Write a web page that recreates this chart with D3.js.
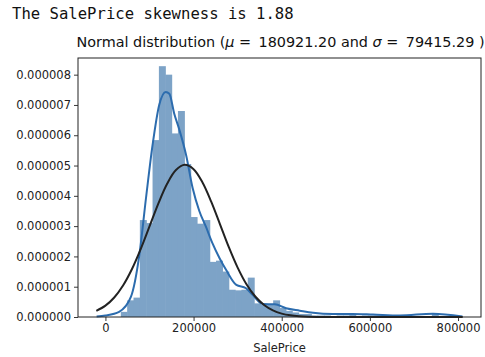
<!DOCTYPE html>
<html>
<head>
<meta charset="utf-8">
<script src="https://cdn.jsdelivr.net/npm/d3@7"></script>
<style>
  html, body { margin: 0; padding: 0; background: #fff; }
  svg { display: block; }
</style>
</head>
<body>
<svg id="chart" width="485" height="357"></svg>
<script>
// ---- data ----
const headline = "The SalePrice skewness is 1.88";
const mu = "180921.20";
const sigma = "79415.29";
const xLabel = "SalePrice";

// histogram: 50 equal bins between min and max SalePrice, density in units of 1e-6
const priceMin = 34900;
const priceMax = 755000;
const histDensity = [
  0.17, 0.55, 0.64, 3.2, 3.1, 5.84, 8.28, 8.0, 6.06, 6.8,
  5.05, 3.3, 3.08, 3.2, 1.82, 1.86, 1.5, 0.9, 0.88, 0.9,
  1.3, 0.45, 0.4, 0.4, 0.55, 0.3, 0.2, 0.15, 0.1, 0.1,
  0.05, 0.05, 0.05, 0.0, 0.05, 0.05, 0.1, 0.0, 0.05, 0.05,
  0.05, 0.05, 0, 0, 0, 0, 0, 0, 0, 0.1
];

// KDE curve (blue), x = SalePrice, y = density (1e-6)
const kdeX = [-20000, 0, 31000, 58000, 77000, 92000, 107000, 122000, 137000, 145000,
  156000, 168000, 183000, 198000, 213000, 228000, 243000, 259000, 274000, 297000,
  319000, 334000, 357000, 384000, 410000, 441000, 471000, 516000, 561000, 607000,
  668000, 743000, 810000];
const kdeY = [0.02, 0.05, 0.17, 0.67, 2.05, 3.92, 5.68, 7.0, 7.43, 7.37,
  6.72, 6.17, 5.35, 4.25, 3.5, 2.98, 2.43, 1.94, 1.55, 1.06,
  0.95, 0.73, 0.43, 0.42, 0.29, 0.21, 0.14, 0.1, 0.1, 0.08,
  0.05, 0.11, 0.02];

// fitted normal curve (black), x = SalePrice, y = density (1e-6)
const normX = [-20660, 0, 20000, 40000, 60000, 80000, 100000, 120000, 140000, 160000,
  180000, 200000, 220000, 240000, 260000, 280000, 300000, 320000, 340000, 360000,
  380000, 400000, 420000, 440000, 460000, 480000, 520000, 600000, 700000, 810560];
const normY = [0.205, 0.375, 0.645, 1.04, 1.576, 2.24, 2.989, 3.743, 4.399, 4.852,
  5.023, 4.88, 4.45, 3.809, 3.06, 2.307, 1.632, 1.083, 0.676, 0.395,
  0.217, 0.112, 0.054, 0.025, 0.01, 0.004, 0.001, 0, 0, 0];

const xTicks = [0, 200000, 400000, 600000, 800000];
const yTicks = [0, 1, 2, 3, 4, 5, 6, 7, 8];

// ---- layout ----
const L = 78, R = 481, T = 58, B = 317;
const svg = d3.select("#chart");

const x = d3.scaleLinear().domain([-62221, 852121]).range([L, R]);
const y = d3.scaleLinear().domain([0, 8.55]).range([B, T]);

const barColor = "rgb(125,163,199)";
const kdeColor = "#2c6cae";

// bars (slightly widened so neighbouring bars do not show seams)
const nb = histDensity.length;
const bw = (priceMax - priceMin) / nb;
svg.append("g").selectAll("rect")
  .data(histDensity)
  .join("rect")
  .attr("x", (d, i) => x(priceMin + i * bw))
  .attr("width", (d, i) => x(priceMin + (i + 1) * bw) - x(priceMin + i * bw) + 0.6)
  .attr("y", d => y(d))
  .attr("height", d => B - y(d))
  .attr("fill", barColor);

// curves
const kdeLine = d3.line().x(d => x(d[0])).y(d => y(d[1])).curve(d3.curveMonotoneX);
svg.append("path")
  .datum(kdeX.map((v, i) => [v, kdeY[i]]))
  .attr("d", kdeLine)
  .attr("fill", "none")
  .attr("stroke", kdeColor)
  .attr("stroke-width", 2);

const normLine = d3.line().x(d => x(d[0])).y(d => y(d[1])).curve(d3.curveCatmullRom.alpha(0.5));
svg.append("path")
  .datum(normX.map((v, i) => [v, normY[i]]))
  .attr("d", normLine)
  .attr("fill", "none")
  .attr("stroke", "#222")
  .attr("stroke-width", 2);

// axes
const fontTick = "DejaVu Sans, sans-serif";
const xAxis = svg.append("g")
  .attr("transform", `translate(0,${B})`)
  .call(d3.axisBottom(x).tickValues(xTicks).tickFormat(d3.format("d")).tickSize(4).tickPadding(3));
const yAxis = svg.append("g")
  .attr("transform", `translate(${L},0)`)
  .call(d3.axisLeft(y).tickValues(yTicks).tickFormat(d => (d * 1e-6).toFixed(6)).tickSize(4).tickPadding(3));
[xAxis, yAxis].forEach(g => {
  g.select(".domain").remove();
  g.selectAll("line").attr("stroke", "#222").attr("stroke-width", 0.9);
  g.selectAll("text").attr("font-family", fontTick).attr("font-size", "11.5px").attr("fill", "#222");
});

// frame
svg.append("rect")
  .attr("x", L).attr("y", T).attr("width", R - L).attr("height", B - T)
  .attr("fill", "none").attr("stroke", "#222").attr("stroke-width", 1);

// x label
svg.append("text")
  .attr("x", (L + R) / 2).attr("y", 352)
  .attr("text-anchor", "middle")
  .attr("font-family", fontTick).attr("font-size", "11.5px").attr("fill", "#222")
  .text(xLabel);

// title
const title = svg.append("text")
  .attr("x", (L + R) / 2 + 1).attr("y", 47)
  .attr("text-anchor", "middle")
  .attr("font-family", fontTick).attr("font-size", "14.4px").attr("fill", "#111");
title.append("tspan").text("Normal distribution (");
title.append("tspan").attr("font-style", "italic").text("\u03bc");
title.append("tspan").text(" = \u2009" + mu + " and ");
title.append("tspan").attr("font-style", "italic").text("\u03c3");
title.append("tspan").text(" = \u2009" + sigma + " )");

// headline printed above
svg.append("text")
  .attr("x", 12).attr("y", 19)
  .attr("font-family", "DejaVu Sans Mono, monospace").attr("font-size", "15.6px").attr("fill", "#111")
  .text(headline);
</script>
</body>
</html>
